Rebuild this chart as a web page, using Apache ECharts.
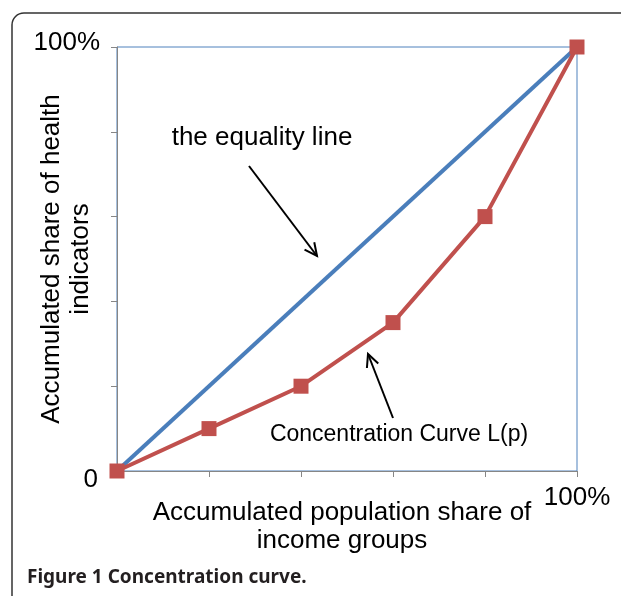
<!DOCTYPE html>
<html>
<head>
<meta charset="utf-8">
<script src="https://cdn.jsdelivr.net/npm/echarts@6/dist/echarts.min.js"></script>
<style>html,body{margin:0;padding:0;background:#fff;}#c{width:621px;height:596px;}</style>
</head>
<body>
<div id="c"></div>
<script>
// Data
const populationShare = [0, 20, 40, 60, 80, 100];
const equalityLine = [0, 100];
const concentrationCurve = [0, 10, 20, 35, 60, 100];
const yTickLabels = {0: '0', 100: '100%'};
const xTickLabels = {100: '100%'};

const chart = echarts.init(document.getElementById('c'));
const font = 'Liberation Sans, Arial, sans-serif';
const fs = 26;

chart.setOption({
  animation: false,
  backgroundColor: '#fff',
  grid: {left: 117, right: 44, top: 47, bottom: 125, containLabel: false, outerBoundsMode: 'none',
    show: true, borderColor: '#4F81BD', borderWidth: 1, backgroundColor: 'transparent'},
  xAxis: {
    type: 'value', min: 0, max: 100, interval: 20,
    axisLine: {show: true, lineStyle: {color: '#868686', width: 1}},
    axisTick: {show: true, length: 6, lineStyle: {color: '#868686'}},
    splitLine: {show: false},
    axisLabel: {margin: 14, color: '#000', fontFamily: font, fontSize: fs,
      formatter: v => xTickLabels[v] || ''},
    name: 'Accumulated population share of\nincome groups',
    nameLocation: 'middle', nameGap: 28, nameMoveOverlap: false,
    nameTextStyle: {color: '#000', fontFamily: font, fontSize: fs, lineHeight: 28, padding: [0, 10, 0, 0]}
  },
  yAxis: {
    type: 'value', min: 0, max: 100, interval: 20,
    axisLine: {show: true, lineStyle: {color: '#868686', width: 1}},
    axisTick: {show: true, length: 6, lineStyle: {color: '#868686'}},
    splitLine: {show: false},
    axisLabel: {margin: 17, color: '#000', fontFamily: font, fontSize: fs,
      formatter: v => v === 0 ? '{z|' + yTickLabels[v] + '}' : (v === 100 ? '{t|' + yTickLabels[v] + '}' : ''),
      rich: {
        z: {fontFamily: font, fontSize: fs, color: '#000', padding: [18, 2, 0, 0]},
        t: {fontFamily: font, fontSize: fs, color: '#000', padding: [0, 0, 8, 0]}
      }},
    name: 'Accumulated share of health\nindicators',
    nameLocation: 'middle', nameGap: 22, nameRotate: 90, nameMoveOverlap: false,
    nameTextStyle: {color: '#000', fontFamily: font, fontSize: fs, lineHeight: 29}
  },
  series: [
    {
      type: 'line', name: 'equality',
      data: equalityLine.map(v => [v, v]),
      symbol: 'none',
      lineStyle: {color: '#4A7EBB', width: 4},
      z: 2
    },
    {
      type: 'line', name: 'concentration',
      data: populationShare.map((x, i) => [x, concentrationCurve[i]]),
      symbol: 'rect', symbolSize: 15,
      itemStyle: {color: '#C0504D'},
      lineStyle: {color: '#C0504D', width: 4},
      z: 3
    }
  ]
});

function arrow(x1, y1, x2, y2) {
  const a = Math.atan2(y2 - y1, x2 - x1);
  const h = 14, w = 0.45;
  return [
    {type: 'line', shape: {x1, y1, x2, y2}, style: {stroke: '#000', lineWidth: 2}},
    {type: 'polyline', shape: {points: [
      [x2 - h * Math.cos(a - w), y2 - h * Math.sin(a - w)],
      [x2, y2],
      [x2 - h * Math.cos(a + w), y2 - h * Math.sin(a + w)]
    ]}, style: {stroke: '#000', lineWidth: 2, fill: null}}
  ];
}

chart.setOption({
  graphic: [
    {type: 'rect', shape: {x: 12, y: 13, width: 700, height: 640, r: 12}, style: {fill: null, stroke: '#333', lineWidth: 1.5}, silent: true},
    {type: 'text', x: 262, y: 138, style: {text: 'the equality line', font: fs + 'px ' + font, fill: '#000', align: 'center', verticalAlign: 'middle'}},
    {type: 'text', x: 399, y: 435, style: {text: 'Concentration Curve L(p)', font: '23px ' + font, fill: '#000', align: 'center', verticalAlign: 'middle'}},
    ...arrow(249, 166, 317, 256),
    ...arrow(393, 418, 368, 354),
    {type: 'text', x: 27, y: 578, style: {text: 'Figure 1 Concentration curve.', font: 'bold 19px "Noto Sans", sans-serif', fill: '#231f20', verticalAlign: 'middle'}}
  ]
});
</script>
</body>
</html>
